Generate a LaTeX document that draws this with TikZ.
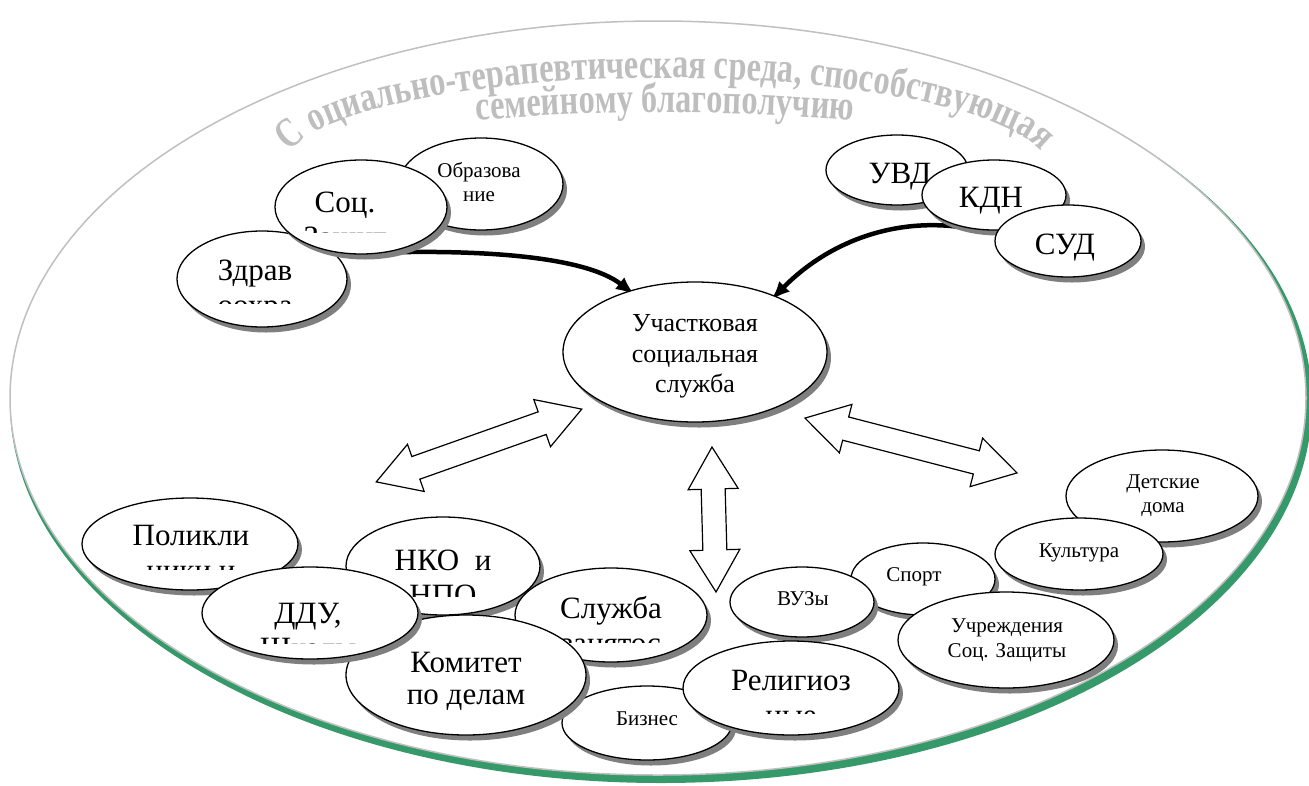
\documentclass[tikz,border=0pt]{standalone}
\usepackage{fontspec}
\setmainfont{Liberation Serif}
\newfontfamily\tallserif{Liberation Serif}[UprightFont={* Bold}, FakeStretch=0.77]
\usetikzlibrary{shapes.geometric, shadows, arrows.meta, decorations.text}
\definecolor{ringgray}{HTML}{C0C0C0}
\definecolor{titlegray}{HTML}{BEBEBE}
\definecolor{shadowgreen}{HTML}{35996A}
\definecolor{shadowgray}{HTML}{7F7F7F}
\newcommand\titlefont{\tallserif\fontsize{42}{44}\selectfont}
% double-headed block arrow: centre x, centre y, angle, length
\newcommand\dblarr[4]{%
  \begin{scope}[shift={(#1,#2)}, rotate=#3]
    \draw[blockarrow]
      ({-#4/2},0) -- ({-#4/2+42},25) -- ({-#4/2+42},12) -- ({#4/2-42},12)
      -- ({#4/2-42},25) -- ({#4/2},0) -- ({#4/2-42},-25) -- ({#4/2-42},-12)
      -- ({-#4/2+42},-12) -- ({-#4/2+42},-25) -- cycle;
  \end{scope}}
\pgfdeclarelayer{ground}
\pgfdeclarelayer{links}
\pgfsetlayers{ground,links,main}

\begin{document}
\begin{tikzpicture}[x=1pt, y=-1pt,
  bub/.style={ellipse, draw=black, line width=1.3pt, fill=white, inner sep=0pt,
    drop shadow={shadow xshift=4pt, shadow yshift=-5.5pt, fill=shadowgray, opacity=1}},
  big/.style={font=\fontsize{31}{35}\selectfont, inner sep=0pt, anchor=base},
  mid/.style={font=\fontsize{26}{30}\selectfont, inner sep=0pt, anchor=base},
  small/.style={font=\fontsize{21}{24}\selectfont, inner sep=0pt, anchor=base},
  link/.style={line width=4.5pt, -{Latex[length=19pt,width=15pt]}},
  blockarrow/.style={draw=black, line width=1.2pt, fill=white, line join=miter},
]
\useasboundingbox (0,0) rectangle (1309,785);

% outer environment ring with its green shadow and arched heading
\begin{pgfonlayer}{ground}
  \fill[shadowgreen] (661,403) ellipse [x radius=651, y radius=380];
  \draw[ringgray, fill=white, line width=1.5pt] (658,398) ellipse [x radius=648, y radius=377];
  \path[decorate, decoration={text along path, text align=center, text color=titlegray,
      text={|\titlefont|С оциально-терапевтическая среда, способствующая}}]
    (665,169) ++(186:383 and 91) arc[start angle=186, end angle=354, x radius=383, y radius=91];
  \path[decorate, decoration={text along path, text align=center, text color=titlegray,
      text={|\titlefont|семейному благополучию}}]
    (460,122) .. controls (600,109) and (730,109) .. (870,122);
\end{pgfonlayer}

% top-left group
\node[bub, minimum width=164pt, minimum height=92pt] (obr) at (481,184) {};
\node[small] (obr-1) at (479,177) {Образова};
\node[small] (obr-2) at (479,201) {ние};
\node[bub, minimum width=170pt, minimum height=96pt] (zdr) at (262,279) {};
\node[big] (zdr-1) at (255,280) {Здрав};
\begin{scope}
  \clip (170,230) rectangle (360,303);
  \node[big] (zdr-2) at (255,315) {оохра};
\end{scope}
\node[bub, minimum width=172pt, minimum height=94pt] (soc) at (361,207) {};
\node[big] (soc-1) at (345,212) {Соц.};
\begin{scope}
  \clip (270,160) rectangle (450,232);
  \node[big] (soc-2) at (345,247) {Защит};
\end{scope}

% top-right group
\node[bub, minimum width=142pt, minimum height=70pt] (uvd) at (897,170) {};
\node[big] (uvd-1) at (900,183) {УВД};
\node[bub, minimum width=144pt, minimum height=70pt] (kdn) at (994,195) {};
\node[big] (kdn-1) at (991,207) {КДН};
\node[bub, minimum width=146pt, minimum height=72pt] (sud) at (1068,241) {};
\node[big] (sud-1) at (1065,254) {СУД};

% central service
\node[bub, minimum width=264pt, minimum height=140pt] (uch) at (695,352) {};
\node[mid] (uch-1) at (695,331) {Участковая};
\node[mid] (uch-2) at (695,362) {социальная};
\node[mid] (uch-3) at (695,392) {служба};

\begin{pgfonlayer}{links}
  \draw[link, shorten >=-7pt] (soc.-60) .. controls (480,250) and (585,256) .. (uch.137);
  \draw[link, shorten >=-6pt] (kdn.-122) .. controls (900,215) and (830,240) .. (uch.35);
\end{pgfonlayer}

% two-way exchange arrows
\dblarr{479}{445.5}{19.5}{218}
\dblarr{714}{519.5}{91.6}{145}
\dblarr{911}{445.5}{-14.5}{219}

% bottom-left group
\node[bub, minimum width=216pt, minimum height=92pt] (pol) at (190,544) {};
\node[big] (pol-1) at (191,545) {Поликли};
\begin{scope}
  \clip (80,500) rectangle (300,569);
  \node[big] (pol-2) at (191,580) {ники и};
\end{scope}
\node[bub, minimum width=194pt, minimum height=98pt] (nko) at (443,566) {};
\node[big] (nko-1) at (443,570) {НКО~~и};
\begin{scope}
  \clip (345,517) rectangle (540,596);
  \node[big] (nko-2) at (443,605) {НПО};
\end{scope}
\node[bub, minimum width=192pt, minimum height=94pt] (slz) at (611,615) {};
\node[big] (slz-1) at (611,618) {Служба};
\begin{scope}
  \clip (515,568) rectangle (707,642);
  \node[big] (slz-2) at (611,653) {занятос};
\end{scope}
\node[bub, minimum width=170pt, minimum height=74pt] (biz) at (647,723) {};
\node[small] (biz-1) at (647,725) {Бизнес};
\node[bub, minimum width=240pt, minimum height=120pt] (kom) at (466,675) {};
\node[big] (kom-1) at (466,672) {Комитет};
\node[big] (kom-2) at (466,704) {по делам};
\node[bub, minimum width=216pt, minimum height=92pt] (ddu) at (310,613) {};
\node[big] (ddu-1) at (308,623) {ДДУ,};
\begin{scope}
  \clip (200,567) rectangle (420,643);
  \node[big] (ddu-2) at (308,658) {Школы};
\end{scope}

% bottom-right group
\node[bub, minimum width=144pt, minimum height=72pt] (spo) at (923,579) {};
\node[small] (spo-1) at (914,581) {Спорт};
\node[bub, minimum width=144pt, minimum height=70pt] (vuz) at (802,602) {};
\node[small] (vuz-1) at (803,605) {ВУЗы};
\node[bub, minimum width=192pt, minimum height=92pt] (det) at (1162,496) {};
\node[small] (det-1) at (1163,488) {Детские};
\node[small] (det-2) at (1163,512) {дома};
\node[bub, minimum width=168pt, minimum height=72pt] (kul) at (1079,554) {};
\node[small] (kul-1) at (1079,557) {Культура};
\node[bub, minimum width=216pt, minimum height=96pt] (ucr) at (1006,640) {};
\node[small] (ucr-1) at (1007,632) {Учреждения};
\node[small] (ucr-2) at (1007,657) {Соц. Защиты};
\node[bub, minimum width=216pt, minimum height=94pt] (rel) at (791,688) {};
\node[big] (rel-1) at (791,690) {Религиоз};
\begin{scope}
  \clip (683,641) rectangle (900,713);
  \node[big] (rel-2) at (791,725) {ные};
\end{scope}
\end{tikzpicture}
\end{document}
